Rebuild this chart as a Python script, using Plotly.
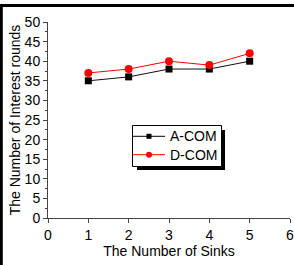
import plotly.graph_objects as go

sinks = [1, 2, 3, 4, 5]
a_com = [35, 36, 38, 38, 40]
d_com = [37, 38, 40, 39, 42]
series_names = ["A-COM", "D-COM"]
x_ticks = [0, 1, 2, 3, 4, 5, 6]
y_ticks = [0, 5, 10, 15, 20, 25, 30, 35, 40, 45, 50]

W, H = 294, 265
L, R, T, B = 48, 4, 22, 47
pw, ph = W - L - R, H - T - B

def px(xp):
    return (xp - L) / pw

def py(yp):
    return 1 - (yp - T) / ph

fig = go.Figure()
fig.add_trace(go.Scatter(x=sinks, y=a_com, name=series_names[0], mode="lines+markers",
                         line=dict(color="#111", width=1),
                         marker=dict(symbol="square", size=7, color="black"),
                         showlegend=False))
fig.add_trace(go.Scatter(x=sinks, y=d_com, name=series_names[1], mode="lines+markers",
                         line=dict(color="red", width=1),
                         marker=dict(symbol="circle", size=8, color="red"),
                         showlegend=False))

font = "Liberation Sans, Arial, sans-serif"

shapes = [
    # outer frame (top and left)
    dict(type="line", xref="paper", yref="paper", x0=px(0), x1=px(W + 5), y0=py(5.5), y1=py(5.5),
         line=dict(color="black", width=3)),
    dict(type="line", xref="paper", yref="paper", x0=px(1.3), x1=px(1.3), y0=py(4), y1=py(H + 5),
         line=dict(color="black", width=3)),
    # legend shadow
    dict(type="rect", xref="paper", yref="paper", x0=px(137), x1=px(225), y0=py(130), y1=py(170),
         fillcolor="black", line=dict(width=0)),
    # legend box
    dict(type="rect", xref="paper", yref="paper", x0=px(132.5), x1=px(221.5), y0=py(125.5), y1=py(166.5),
         fillcolor="white", line=dict(color="black", width=1)),
]
annotations = []
legend_rows = [136.3, 154.7]
legend_styles = [("black", "square", 5), ("red", "circle", 6)]
for name, yrow, (col, sym, sz) in zip(series_names, legend_rows, legend_styles):
    shapes.append(dict(type="line", xref="paper", yref="paper", x0=px(133), x1=px(165),
                       y0=py(yrow), y1=py(yrow), line=dict(color=col, width=1)))
    h = sz / 2
    if sym == "square":
        shapes.append(dict(type="rect", xref="paper", yref="paper", x0=px(149 - h), x1=px(149 + h),
                           y0=py(yrow - h), y1=py(yrow + h), fillcolor=col, line=dict(width=0)))
    else:
        shapes.append(dict(type="circle", xref="paper", yref="paper", x0=px(149 - h), x1=px(149 + h),
                           y0=py(yrow - h), y1=py(yrow + h), fillcolor=col, line=dict(width=0)))
    annotations.append(dict(text=name, xref="paper", yref="paper", x=px(167.5), y=py(yrow),
                            xanchor="left", yanchor="middle", showarrow=False,
                            font=dict(family=font, size=14, color="black")))

fig.update_layout(
    width=W, height=H,
    margin=dict(l=L, r=R, t=T, b=B),
    paper_bgcolor="white", plot_bgcolor="white",
    font=dict(family=font, size=14, color="black"),
    showlegend=False,
    xaxis=dict(range=[0, 6], tickvals=x_ticks, showgrid=False, zeroline=False,
               showline=True, linecolor="#444", linewidth=1, automargin=False,
               ticks="outside", ticklen=4, tickcolor="#444",
               tickfont=dict(size=14), ticklabeloverflow="allow",
               title=dict(text="The Number of Sinks", font=dict(size=14), standoff=4)),
    yaxis=dict(range=[0, 50], tickvals=y_ticks, showgrid=False, zeroline=False,
               showline=True, linecolor="#444", linewidth=1, automargin=False,
               ticks="outside", ticklen=4, tickcolor="#444",
               tickfont=dict(size=14), ticklabeloverflow="allow",
               minor=dict(ticks="outside", ticklen=2, dtick=2.5, tickcolor="#444"),
               title=dict(text="The Number of Interest rounds", font=dict(size=14), standoff=0)),
    shapes=shapes,
    annotations=annotations,
)
fig.write_html("out.html", config={"displayModeBar": False},
               post_script="document.body.style.margin='0';document.body.style.overflow='hidden';")
